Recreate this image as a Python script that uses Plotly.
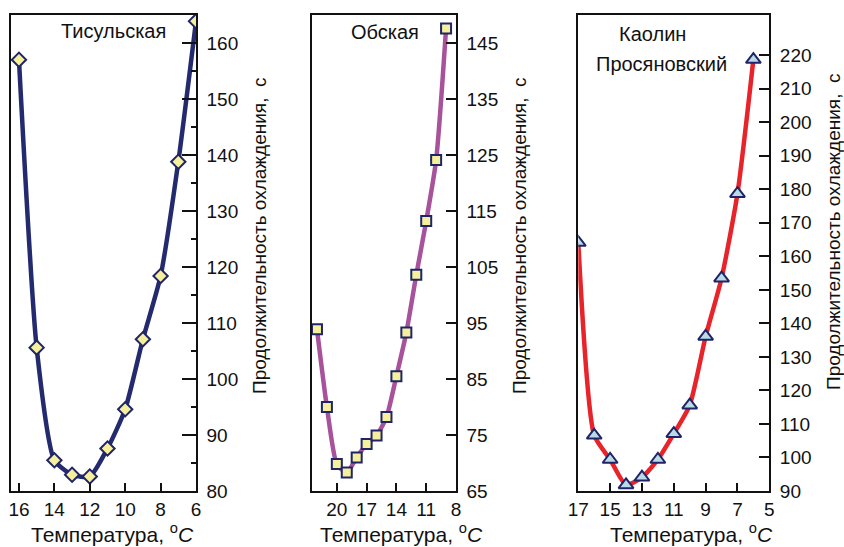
import plotly.graph_objects as go

# Cooling duration vs. temperature for three clays
t_tis = [16, 15, 14, 13, 12, 11, 10, 9, 8, 7, 6]
v_tis = [157.0, 105.6, 85.5, 82.9, 82.6, 87.6, 94.6, 107.1, 118.4, 138.8, 163.9]

t_ob = [22, 21, 20, 19, 18, 17, 16, 15, 14, 13, 12, 11, 10, 9]
v_ob = [93.9, 80.0, 69.8, 68.3, 71.0, 73.4, 74.9, 78.2, 85.5, 93.3, 103.6, 113.2, 124.1, 147.6]

t_kao = [17, 16, 15, 14, 13, 12, 11, 10, 9, 8, 7, 6]
v_kao = [164.1, 106.6, 99.4, 91.8, 94.1, 99.4, 107.1, 115.6, 136.1, 153.5, 178.7, 218.7]

ticks_x1 = [16, 14, 12, 10, 8, 6]
ticks_x2 = [20, 17, 14, 11, 8]
ticks_x3 = [17, 15, 13, 11, 9, 7, 5]
ticks_y1 = [80, 90, 100, 110, 120, 130, 140, 150, 160]
ticks_y2 = [65, 75, 85, 95, 105, 115, 125, 135, 145]
ticks_y3 = [90, 100, 110, 120, 130, 140, 150, 160, 170, 180, 190, 200, 210, 220]

W, H = 844, 547
FONT = "Liberation Sans, Arial, sans-serif"
NAVY = "#1f2568"


def px(x):
    return x / W


def py(y):
    return 1 - y / H


fig = go.Figure()
fig.add_trace(go.Scatter(
    x=t_tis, y=v_tis, xaxis="x", yaxis="y", mode="lines+markers",
    line=dict(color="#232a6e", width=4.5, shape="spline", smoothing=0.6),
    marker=dict(symbol="diamond", size=11, color="#f6ef9c", line=dict(color=NAVY, width=2)),
))
fig.add_trace(go.Scatter(
    x=t_ob, y=v_ob, xaxis="x2", yaxis="y2", mode="lines+markers",
    line=dict(color="#a8529b", width=4.5, shape="spline", smoothing=0.6),
    marker=dict(symbol="square", size=10, color="#f6ef9c", line=dict(color=NAVY, width=2)),
))
fig.add_trace(go.Scatter(
    x=t_kao, y=v_kao, xaxis="x3", yaxis="y3", mode="lines+markers",
    line=dict(color="#e8232a", width=4.5, shape="spline", smoothing=0.6),
    marker=dict(symbol="triangle-up", size=13, color="#b9dbe6", line=dict(color=NAVY, width=2)),
))

ydom = [py(491), py(15)]
tickfont = dict(family=FONT, size=19, color="#111")


def xaxis(dom, rng, ticks, anchor):
    return dict(domain=dom, range=rng, anchor=anchor, tickvals=ticks,
                ticktext=[str(t) for t in ticks], ticks="inside", ticklen=8,
                tickwidth=1.5, tickcolor="#111", showline=True, mirror=True,
                linecolor="#111", linewidth=1.5, showgrid=False, zeroline=False,
                tickfont=tickfont, automargin=False)


def yaxis(rng, ticks, ticklen, anchor, minor=None):
    d = dict(domain=ydom, range=rng, anchor=anchor, side="right", tickvals=ticks,
             ticktext=[str(t) for t in ticks], ticklabelstandoff=5,
             ticks="inside", ticklen=ticklen, tickwidth=1.5, tickcolor="#111",
             showline=True, mirror=True, linecolor="#111", linewidth=1.5,
             showgrid=False, zeroline=False, tickfont=tickfont, automargin=False)
    if minor:
        d["minor"] = minor
    return d


layout = dict(
    width=W, height=H, margin=dict(l=0, r=0, t=0, b=0),
    paper_bgcolor="white", plot_bgcolor="white", showlegend=False,
    xaxis=xaxis([px(11), px(196)], [16.45, 6], ticks_x1, "y"),
    xaxis2=xaxis([px(312), px(456)], [22.5, 8], ticks_x2, "y2"),
    xaxis3=xaxis([px(578.3), px(769.3)], [17, 5], ticks_x3, "y3"),
    yaxis=yaxis([80, 165], ticks_y1, 14, "x",
                minor=dict(tickvals=[85, 95, 105, 115, 125, 135, 145, 155], ticks="inside",
                           ticklen=5, tickwidth=1.5, tickcolor="#111")),
    yaxis2=yaxis([65, 150], ticks_y2, 10, "x2"),
    yaxis3=yaxis([90, 232], ticks_y3, 11, "x3"),
)
fig.update_layout(**layout)

ytitle = "Продолжительность охлаждения,  с"
xtitle = "Температура, <sup>o</sup><i>C</i>"
labels = [
    ("Тисульская", 113, 31, 0, 20),
    ("Обская", 385, 32, 0, 20),
    ("Каолин", 652, 34, 0, 20),
    ("Просяновский", 661, 64, 0, 20),
    (xtitle, 112, 533, 0, 21),
    (xtitle, 401, 533, 0, 21),
    (xtitle, 691, 533, 0, 21),
    (ytitle, 259, 236, -90, 19),
    (ytitle, 519, 236, -90, 19),
    (ytitle, 834, 232, -90, 19),
]
for text, x, y, ang, size in labels:
    fig.add_annotation(text=text, x=px(x), y=py(y), xref="paper", yref="paper",
                       xanchor="center", yanchor="middle", showarrow=False,
                       textangle=ang, font=dict(family=FONT, size=size, color="#111"))

fig.write_html("out.html")
